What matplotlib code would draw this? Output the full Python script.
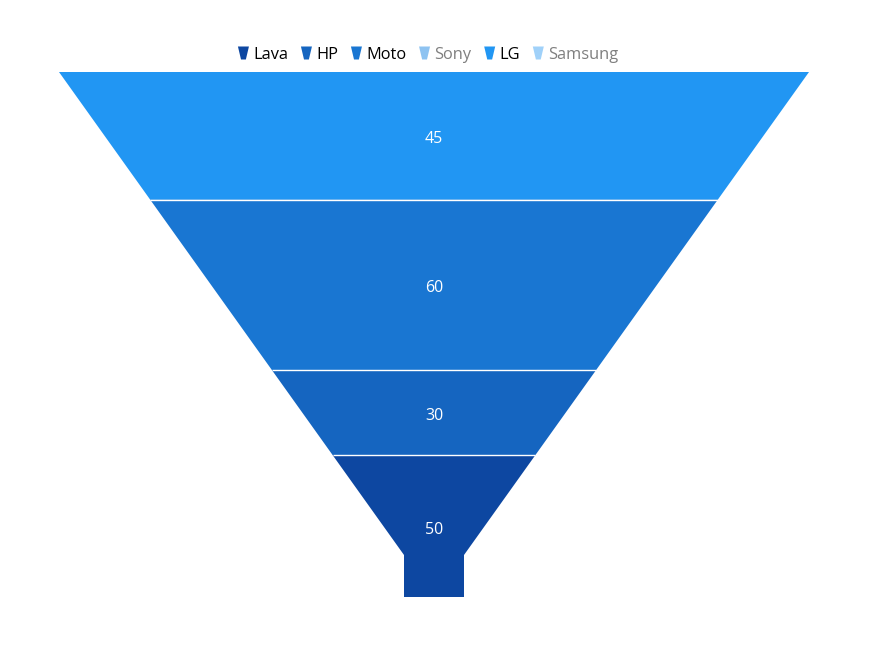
import matplotlib
matplotlib.use("Agg")
import matplotlib.pyplot as plt
from matplotlib.patches import Polygon

plt.rcParams['font.family'] = ['Open Sans', 'DejaVu Sans']

# Data
categories = ["Lava", "HP", "Moto", "Sony", "LG", "Samsung"]
values = [50, 30, 60, None, 45, None]          # hidden series have no visible value
visible = [True, True, True, False, True, False]
colors = ["#0D47A1", "#1565C0", "#1976D2", "#1E88E5", "#2196F3", "#42A5F5"]

W, H = 870, 650
fig = plt.figure(figsize=(W / 100, H / 100), dpi=100)
ax = fig.add_axes([0, 0, 1, 1])
ax.set_xlim(0, W)
ax.set_ylim(H, 0)
ax.axis("off")

# Funnel layout (pixel space)
cx = 434
top_y, bot_y = 72, 597
top_w = 750
neck_w_frac = 0.08
neck_h_frac = 0.08
neck_w = top_w * neck_w_frac
total_h = bot_y - top_y
neck_y = bot_y - total_h * neck_h_frac

def half_width(y):
    if y >= neck_y:
        return neck_w / 2
    t = (y - top_y) / (neck_y - top_y)
    return (top_w / 2) * (1 - t) + (neck_w / 2) * t

shown = [(c, v, col) for c, v, vis, col in zip(categories, values, visible, colors) if vis]
total = sum(v for _, v, _ in shown)

y = top_y
boundaries = []
for c, v, col in reversed(shown):
    h = v / total * total_h
    y0, y1 = y, y + h
    pts = [(cx - half_width(y0), y0), (cx + half_width(y0), y0)]
    if y0 < neck_y < y1:
        pts += [(cx + half_width(neck_y), neck_y), (cx + neck_w / 2, y1),
                (cx - neck_w / 2, y1), (cx - half_width(neck_y), neck_y)]
    else:
        pts += [(cx + half_width(y1), y1), (cx - half_width(y1), y1)]
    ax.add_patch(Polygon(pts, closed=True, facecolor=col, edgecolor="none", antialiased=True))
    ax.text(cx, (y0 + y1) / 2 + 3.5, str(v), color="white", ha="center", va="center", fontsize=11.5)
    if y0 > top_y:
        boundaries.append(y0)
    y = y1

for b in boundaries:
    hw = half_width(b)
    ax.plot([cx - hw, cx + hw], [b, b], color="white", linewidth=1.0, solid_capstyle="butt")

# Legend
fig.canvas.draw()
renderer = fig.canvas.get_renderer()
leg_y = 53
mw, mh, gap, item_gap = 11, 13, 4, 13
fs = 11.8
items = []
total_w = 0
for c, vis in zip(categories, visible):
    t = ax.text(0, leg_y + 2, c, fontsize=fs, va="center", ha="left",
                color="#000000" if vis else "#7f7f7f")
    bb = t.get_window_extent(renderer)
    items.append((t, bb.width))
    total_w += mw + gap + bb.width
total_w += item_gap * (len(categories) - 1)
x = 428 - total_w / 2
for (t, tw), col, vis in zip(items, colors, visible):
    alpha = 1.0 if vis else 0.5
    mk = [(x, leg_y - mh / 2), (x + mw, leg_y - mh / 2),
          (x + mw * 0.72, leg_y + mh / 2), (x + mw * 0.28, leg_y + mh / 2)]
    ax.add_patch(Polygon(mk, closed=True, facecolor=col, edgecolor="none", alpha=alpha))
    t.set_x(x + mw + gap)
    x += mw + gap + tw + item_gap

fig.savefig("out.png", dpi=100, facecolor="white")
